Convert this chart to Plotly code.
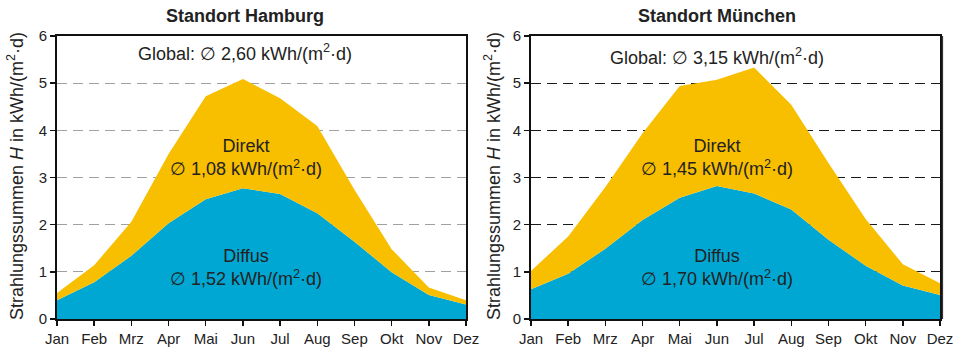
import plotly.graph_objects as go

months = ["Jan", "Feb", "Mrz", "Apr", "Mai", "Jun", "Jul", "Aug", "Sep", "Okt", "Nov", "Dez"]
ham_global = [0.55, 1.14, 2.06, 3.50, 4.72, 5.09, 4.68, 4.09, 2.74, 1.48, 0.67, 0.40]
ham_diffus = [0.40, 0.78, 1.34, 2.03, 2.54, 2.77, 2.65, 2.24, 1.64, 0.99, 0.51, 0.31]
muc_global = [1.02, 1.75, 2.80, 3.94, 4.94, 5.07, 5.33, 4.54, 3.31, 2.12, 1.16, 0.76]
muc_diffus = [0.63, 0.96, 1.49, 2.10, 2.57, 2.82, 2.66, 2.32, 1.68, 1.13, 0.71, 0.51]
titles = ["Standort Hamburg", "Standort München"]
global_txt = ["Global: ∅ 2,60 kWh/(m<sup>2</sup>·d)", "Global: ∅ 3,15 kWh/(m<sup>2</sup>·d)"]
direkt_txt = ["Direkt<br>∅ 1,08 kWh/(m<sup>2</sup>·d)", "Direkt<br>∅ 1,45 kWh/(m<sup>2</sup>·d)"]
diffus_txt = ["Diffus<br>∅ 1,52 kWh/(m<sup>2</sup>·d)", "Diffus<br>∅ 1,70 kWh/(m<sup>2</sup>·d)"]
ytitle = "Strahlungssummen <i>H</i> in kWh/(m<sup>2</sup>·d)"

YELLOW = "#F8BE00"
BLUE = "#00A7D3"
TXT = "#222222"
FONT = "Liberation Sans, Arial, sans-serif"
W, H = 957, 349


def px(x):
    return x / W


def py(y):
    return 1 - y / H


xidx = list(range(len(months)))
fig = go.Figure()

panels = [(ham_global, ham_diffus), (muc_global, muc_diffus)]
xdoms = [[px(57), px(466)], [px(531), px(940)]]
ydom = [py(319), py(36)]
gridcols = ["#a0a0a0", "#1a1a1a"]

for i, (glob, diff) in enumerate(panels):
    xa = "x" if i == 0 else "x2"
    ya = "y" if i == 0 else "y2"
    fig.add_trace(go.Scatter(x=xidx, y=diff, mode="lines", line=dict(width=0, color=BLUE),
                             fill="tozeroy", fillcolor=BLUE, xaxis=xa, yaxis=ya,
                             showlegend=False, hoverinfo="skip"))
    fig.add_trace(go.Scatter(x=xidx, y=glob, mode="lines", line=dict(width=0, color=YELLOW),
                             fill="tonexty", fillcolor=YELLOW, xaxis=xa, yaxis=ya,
                             showlegend=False, hoverinfo="skip"))

layout = dict(
    width=W, height=H, margin=dict(l=0, r=0, t=0, b=0),
    paper_bgcolor="white", plot_bgcolor="white",
    font=dict(family=FONT, size=15, color=TXT),
)
annotations = []
title_x = [245, 717]
ytitle_x = [15, 492]
for i in range(2):
    sfx = "" if i == 0 else "2"
    layout["xaxis" + sfx] = dict(
        domain=xdoms[i], range=[0, 11], tickmode="array", tickvals=xidx, ticktext=months,
        showgrid=False, zeroline=False, showline=True, linecolor="#111111", linewidth=2,
        mirror=True, ticks="outside", ticklen=5, tickcolor="#111111", tickwidth=1.5,
        tickfont=dict(size=15, family=FONT, color=TXT), automargin=False,
        anchor="y" + sfx, layer="above traces",
    )
    layout["yaxis" + sfx] = dict(
        domain=ydom, range=[0, 6], tickvals=[0, 1, 2, 3, 4, 5, 6],
        showgrid=True, gridcolor=gridcols[i], griddash="10px,6px", gridwidth=1.3,
        zeroline=False, showline=True, linecolor="#111111", linewidth=2, mirror=True,
        ticks="outside", ticklen=5, tickcolor="#111111", tickwidth=1.5,
        tickfont=dict(size=15, family=FONT, color=TXT), automargin=False,
        anchor="x" + sfx, layer="above traces",
    )
    annotations.append(dict(text="<b>" + titles[i] + "</b>", x=px(title_x[i]), y=py(16),
                            xref="paper", yref="paper", showarrow=False,
                            xanchor="center", yanchor="middle",
                            font=dict(size=18, family=FONT, color=TXT)))
    annotations.append(dict(text=ytitle, x=px(ytitle_x[i]), y=py(176), textangle=-90,
                            xref="paper", yref="paper", showarrow=False,
                            xanchor="center", yanchor="middle",
                            font=dict(size=18, family=FONT, color=TXT)))
    annotations.append(dict(text=global_txt[i], x=5.06 if i == 0 else 5.0,
                            y=5.64 if i == 0 else 5.56,
                            xref="x" + sfx, yref="y" + sfx, showarrow=False,
                            font=dict(size=18, family=FONT, color=TXT)))
    annotations.append(dict(text=direkt_txt[i], x=5.07 if i == 0 else 5.0, y=3.43,
                            xref="x" + sfx, yref="y" + sfx, showarrow=False,
                            font=dict(size=18, family=FONT, color=TXT)))
    annotations.append(dict(text=diffus_txt[i], x=5.07 if i == 0 else 5.0, y=1.10,
                            xref="x" + sfx, yref="y" + sfx, showarrow=False,
                            font=dict(size=18, family=FONT, color=TXT)))
layout["annotations"] = annotations
layout["shapes"] = [dict(type="line", xref="paper", yref="paper",
                         x0=px(942.5), x1=px(942.5), y0=py(319), y1=py(36),
                         line=dict(color="#333333", width=1.2))]
fig.update_layout(**layout)
fig.write_html("out.html",
               config={"displayModeBar": False, "staticPlot": True},
               post_script="document.body.style.margin='0';"
                           "document.documentElement.style.overflow='hidden';")
